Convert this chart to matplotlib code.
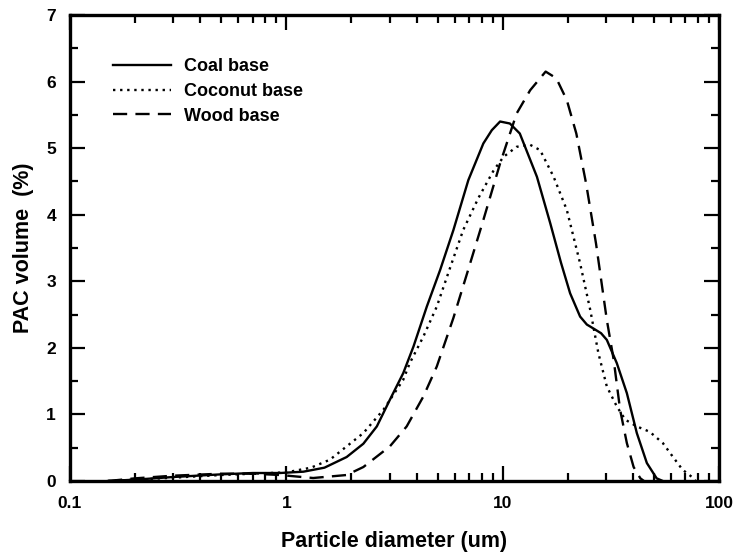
import matplotlib
matplotlib.use("Agg")
import matplotlib.pyplot as plt
import numpy as np
from matplotlib.ticker import LogLocator, NullFormatter, MultipleLocator

plt.rcParams['font.family'] = ['Liberation Sans', 'DejaVu Sans']
plt.rcParams['font.weight'] = 'bold'

# Coal base (solid)
coal_x = [0.15, 0.2, 0.3, 0.5, 0.7, 0.935, 1.2, 1.5, 1.9, 2.27, 2.62, 3.01, 3.47, 3.87, 4.46, 5.14,
          5.92, 6.94, 8.14, 8.91, 9.73, 10.8, 12.0, 14.4, 16.6, 18.6, 20.5, 22.8, 24.5, 26.3, 28.5,
          30.3, 33.7, 37.5, 41.7, 46.4, 51.5, 55.0]
coal_y = [0.0, 0.02, 0.06, 0.10, 0.12, 0.12, 0.14, 0.2, 0.36, 0.56, 0.82, 1.22, 1.62, 2.02, 2.62, 3.17,
          3.77, 4.52, 5.07, 5.27, 5.40, 5.37, 5.22, 4.57, 3.87, 3.28, 2.82, 2.47, 2.35, 2.29, 2.22,
          2.12, 1.77, 1.32, 0.72, 0.27, 0.04, 0.0]

# Coconut base (dotted)
coco_x = [0.15, 0.2, 0.3, 0.5, 0.7, 1.0, 1.3, 1.59, 2.27, 2.81, 3.47, 3.72, 4.30, 4.96, 5.71, 6.57,
          7.72, 9.1, 10.1, 11.6, 13.4, 14.9, 17.2, 19.8, 22.8, 25.4, 27.7, 30.3, 33.7, 36.9, 41.7,
          47.8, 55.0, 61.0, 67.8, 75.0, 78.0]
coco_y = [0.0, 0.02, 0.05, 0.09, 0.11, 0.13, 0.2, 0.32, 0.72, 1.07, 1.52, 1.77, 2.17, 2.62, 3.2, 3.77,
          4.25, 4.67, 4.87, 5.02, 5.05, 4.97, 4.57, 4.07, 3.27, 2.57, 1.92, 1.42, 1.12, 0.92, 0.82,
          0.74, 0.57, 0.37, 0.17, 0.06, 0.0]

# Wood base (dashed)
wood_x = [0.15, 0.2, 0.3, 0.5, 0.7, 0.935, 1.33, 1.9, 2.27, 3.01, 3.6, 4.30, 4.96, 5.92, 6.82, 8.14,
          9.73, 11.6, 13.4, 15.8, 17.7, 19.8, 21.9, 24.3, 27.0, 30.3, 32.6, 34.9, 37.5, 40.3, 43.3,
          45.0]
wood_y = [0.0, 0.04, 0.08, 0.11, 0.11, 0.09, 0.045, 0.09, 0.21, 0.52, 0.82, 1.27, 1.72, 2.45, 3.1,
          3.92, 4.77, 5.52, 5.87, 6.15, 6.05, 5.72, 5.22, 4.47, 3.57, 2.42, 1.82, 1.07, 0.57, 0.21,
          0.04, 0.0]

labels = ["Coal base", "Coconut base", "Wood base"]
xticks = [0.1, 1, 10, 100]
xticklabels = ["0.1", "1", "10", "100"]
yticks = [0, 1, 2, 3, 4, 5, 6, 7]

fig = plt.figure(figsize=(7.38, 5.58), dpi=100)
ax = fig.add_axes([70/738, 1 - 481/558, (719-70)/738, (481-15)/558])

ax.plot(coal_x, coal_y, color='black', lw=1.7, ls='-', label=labels[0])
ax.plot(coco_x, coco_y, color='black', lw=1.7, ls=(0, (1, 2.0)), label=labels[1])
ax.plot(wood_x, wood_y, color='black', lw=1.7, ls=(0, (6, 3.5)), label=labels[2])

ax.set_xscale('log')
ax.set_xlim(0.1, 100)
ax.set_ylim(0, 7)
ax.set_xticks(xticks)
ax.set_xticklabels(xticklabels)
ax.xaxis.set_minor_locator(LogLocator(base=10, subs=np.arange(2, 10)))
ax.xaxis.set_minor_formatter(NullFormatter())
ax.set_yticks(yticks)
ax.yaxis.set_minor_locator(MultipleLocator(0.5))

for s in ax.spines.values():
    s.set_linewidth(2.4)
ax.tick_params(which='both', direction='in', top=True, right=True, width=1.6, labelsize=12.5)
ax.tick_params(which='major', length=11)
ax.tick_params(which='minor', length=6)
ax.tick_params(axis='x', which='major', pad=11)
ax.tick_params(axis='y', which='major', pad=10)
for lbl in ax.get_xticklabels() + ax.get_yticklabels():
    lbl.set_fontweight('bold')

ax.set_xlabel("Particle diameter (um)", fontsize=15.5, fontweight='bold', labelpad=14)
ax.set_ylabel("PAC volume  (%)", fontsize=15.5, fontweight='bold', labelpad=9)

leg = ax.legend(loc='upper left', bbox_to_anchor=(0.066, 0.907), frameon=False,
                borderaxespad=0, borderpad=0,
                handlelength=3.2, handletextpad=0.75, labelspacing=0.42,
                prop={'weight': 'bold', 'size': 13})

fig.savefig("out.png", dpi=100)
